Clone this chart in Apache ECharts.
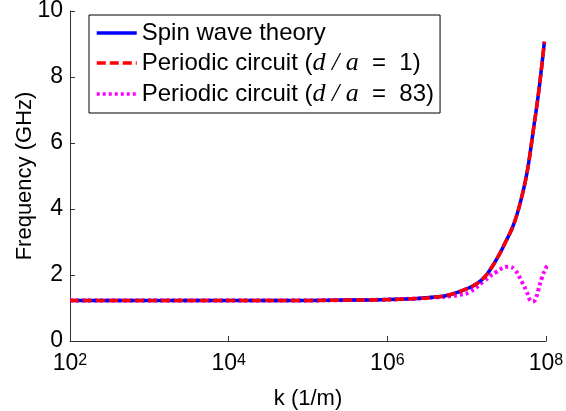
<!DOCTYPE html>
<html>
<head>
<meta charset="utf-8">
<script src="https://cdn.jsdelivr.net/npm/echarts@6/dist/echarts.min.js"></script>
<style>
html,body{margin:0;padding:0;background:#fff;}
#chart{width:566px;height:411px;}
</style>
</head>
<body>
<div id="chart"></div>
<script>
// Wavenumber k (1/m) and frequency (GHz)
const kSpin = [1e2, 1e3, 1e4, 1e5, 3.2e5, 8.0e5, 2.0e6, 4.0e6, 6.3e6, 1.0e7, 1.35e7, 1.70e7, 2.09e7, 2.51e7, 3.02e7, 3.72e7, 4.27e7, 4.90e7, 5.50e7, 6.03e7, 6.92e7, 7.94e7, 8.91e7, 9.55e7];
const fSpin = [1.23, 1.23, 1.23, 1.23, 1.24, 1.25, 1.28, 1.33, 1.41, 1.58, 1.74, 1.95, 2.25, 2.57, 2.95, 3.40, 3.80, 4.33, 4.85, 5.38, 6.39, 7.40, 8.41, 9.07];

const kCirc1 = [1e2, 1e3, 1e4, 1e5, 3.2e5, 8.0e5, 2.0e6, 4.0e6, 6.3e6, 1.0e7, 1.35e7, 1.70e7, 2.09e7, 2.51e7, 3.02e7, 3.72e7, 4.27e7, 4.90e7, 5.50e7, 6.03e7, 6.92e7, 7.94e7, 8.91e7, 9.55e7];
const fCirc1 = [1.23, 1.23, 1.23, 1.23, 1.24, 1.25, 1.28, 1.33, 1.41, 1.58, 1.74, 1.95, 2.25, 2.57, 2.95, 3.40, 3.80, 4.33, 4.85, 5.38, 6.39, 7.40, 8.41, 9.07];

const kCirc83 = [1e2, 1e3, 1e4, 1e5, 3.2e5, 8.0e5, 2.0e6, 4.0e6, 6.3e6, 8.24e6, 1.10e7, 1.62e7, 2.39e7, 3.35e7, 4.06e7, 4.94e7, 5.71e7, 6.28e7, 6.76e7, 7.26e7, 8.0e7, 8.83e7, 1.0e8, 1.06e8];
const fCirc83 = [1.23, 1.23, 1.23, 1.23, 1.24, 1.25, 1.28, 1.32, 1.36, 1.40, 1.49, 1.80, 2.10, 2.25, 2.15, 1.80, 1.49, 1.24, 1.20, 1.24, 1.55, 1.90, 2.22, 2.30];

const seriesNames = ['Spin wave theory', 'Periodic circuit (d/a = 1)', 'Periodic circuit (d/a = 83)'];
const yTicks = [0, 2, 4, 6, 8, 10];

const pairs = (xs, ys) => xs.map((x, i) => [x, ys[i]]);

const chart = echarts.init(document.getElementById('chart'), null, {renderer: 'canvas'});
const font = 'Liberation Sans, Arial, sans-serif';

chart.setOption({
  animation: false,
  backgroundColor: '#fff',
  grid: {left: 70, right: 20, top: 11, bottom: 70, containLabel: false, outerBoundsMode: 'none'},
  legend: {
    orient: 'vertical',
    left: 89, top: 15,
    padding: [6, 6, 6, 6],
    itemGap: 5,
    itemWidth: 40,
    itemHeight: 14,
    itemTextGap: 7,
    borderColor: '#000', borderWidth: 1,
    backgroundColor: '#fff',
    itemStyle: {opacity: 0},
    lineStyle: {width: 3.5},
    data: seriesNames,
    textStyle: {
      fontFamily: font, fontSize: 24, color: '#000', lineHeight: 24,
      rich: {
        i: {fontFamily: 'Liberation Serif, DejaVu Serif, serif', fontStyle: 'italic', fontSize: 26, color: '#000', lineHeight: 24}
      }
    },
    formatter: function (name) {
      if (name === seriesNames[1]) return 'Periodic circuit ({i|d / a}  =  1)';
      if (name === seriesNames[2]) return 'Periodic circuit ({i|d / a}  =  83)';
      return name;
    }
  },
  xAxis: {
    type: 'log', logBase: 10, min: 1e2, max: 1e8, interval: 2,
    name: 'k (1/m)', nameLocation: 'middle', nameGap: 47, nameMoveOverlap: false,
    nameTextStyle: {fontFamily: font, fontSize: 22, color: '#000'},
    axisLine: {lineStyle: {color: '#333', width: 1}},
    axisTick: {inside: true, length: 5, lineStyle: {color: '#333'}},
    minorTick: {show: false},
    splitLine: {show: false},
    axisLabel: {
      margin: 12,
      formatter: function (v) {
        const e = Math.round(Math.log10(v));
        return '{b|10}{s|' + e + '}';
      },
      rich: {
        b: {fontFamily: font, fontSize: 23, color: '#000', lineHeight: 22, verticalAlign: 'bottom'},
        s: {fontFamily: font, fontSize: 16, color: '#000', lineHeight: 15, verticalAlign: 'top'}
      }
    }
  },
  yAxis: {
    type: 'value', min: 0, max: 10, interval: 2,
    name: 'Frequency (GHz)', nameLocation: 'middle', nameGap: 34, nameRotate: 90, nameMoveOverlap: false,
    nameTextStyle: {fontFamily: font, fontSize: 22, color: '#000'},
    axisLine: {show: true, lineStyle: {color: '#333', width: 1}},
    axisTick: {show: true, inside: true, length: 5, lineStyle: {color: '#333'}},
    splitLine: {show: false},
    axisLabel: {margin: 7, fontFamily: font, fontSize: 23, color: '#000',
      formatter: v => yTicks.includes(v) ? String(v) : ''}
  },
  series: [
    {
      name: seriesNames[2], type: 'line', data: pairs(kCirc83, fCirc83), z: 2,
      symbol: 'none', smooth: 0.5, clip: true,
      lineStyle: {color: '#ff00ff', width: 4, type: [3, 3]},
      itemStyle: {color: '#ff00ff'}
    },
    {
      name: seriesNames[0], type: 'line', data: pairs(kSpin, fSpin), z: 3,
      symbol: 'none', smooth: 0.5, clip: true,
      lineStyle: {color: '#0000ff', width: 3.5},
      itemStyle: {color: '#0000ff'}
    },
    {
      name: seriesNames[1], type: 'line', data: pairs(kCirc1, fCirc1), z: 4,
      symbol: 'none', smooth: 0.5, clip: true,
      lineStyle: {color: '#ff0000', width: 3.5, type: [9, 4]},
      itemStyle: {color: '#ff0000'}
    }
  ]
});
</script>
</body>
</html>
